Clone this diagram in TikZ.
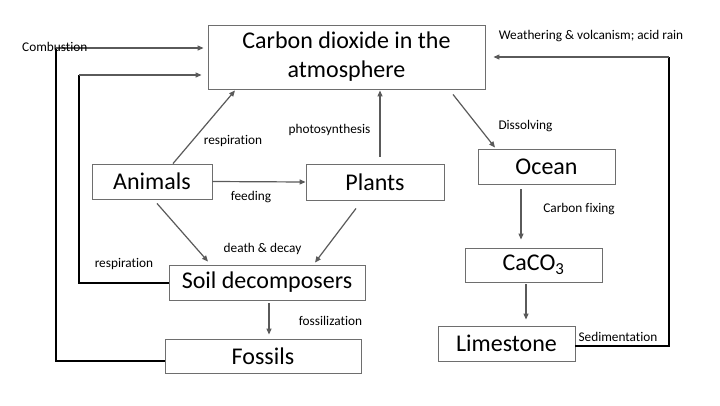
\documentclass[tikz,border=0pt]{standalone}
\usepackage{fontspec}
\setmainfont{Carlito}[Ligatures={NoCommon}]
\usetikzlibrary{arrows.meta,calc}
\definecolor{boxline}{RGB}{110,110,110}
\definecolor{arrgray}{RGB}{90,90,90}
\tikzset{
  box/.style={draw=boxline, line width=0.9pt, inner sep=0pt, font=\fontsize{24}{29}\selectfont, align=center},
  lbl/.style={font=\fontsize{13.3}{15}\selectfont, inner sep=0pt},
  arr/.style={draw=arrgray, line width=1.2pt, -{Triangle[length=6pt,width=5pt]}},
  blk/.style={draw=black, line width=2pt},
}
\begin{document}
\begin{tikzpicture}[x=1pt,y=-1pt]
\useasboundingbox[fill=white] (0,0) rectangle (720,405);
% boxes
\node[box, minimum width=277pt, minimum height=64pt] (co2) at (346.5,57) {Carbon dioxide in the\\atmosphere};
\node[box, minimum width=120pt, minimum height=35pt] (animals) at (152,181.5) {Animals};
\node[box, minimum width=138pt, minimum height=36pt] (plants) at (375,182) {Plants};
\node[box, minimum width=137pt, minimum height=35pt] (ocean) at (546.5,166.5) {Ocean};
\node[box, minimum width=196pt, minimum height=35pt] (soil) at (267,282.5) {Soil decomposers};
\node[box, minimum width=196pt, minimum height=34pt] (fossils) at (263,356) {Fossils};
\node[box, minimum width=137pt, minimum height=34pt] (caco3) at (533.5,265) {CaCO\textsubscript{3}};
\node[box, minimum width=137pt, minimum height=35pt] (lime) at (506.5,343.5) {Limestone};
% corner coordinates
\coordinate (c1) at (56,48);
\coordinate (c2) at (79,75);
\coordinate (c3) at (669,57);
% black return lines
\draw[blk] ($(fossils.west)+(0,5)$) -| (c1);
\draw[arr] (c1) -- ($(co2.west)+(-4,-9)$);
\draw[blk] (soil.west) -| (c2);
\draw[arr] (c2) -- ($(co2.west)+(-6,18)$);
\draw[blk] ($(lime.east)+(0,2.5)$) -| (c3);
\draw[arr] (c3) -- ($(co2.east)+(8,0)$);
% arrows
\draw[arr] ($(animals.north)+(21,0)$) -- ($(co2.south)+(-111.5,1)$);
\draw[arr] (animals.east) -- (plants.west);
\draw[arr] ($(plants.north)+(5,-7)$) -- ($(co2.south)+(33.5,1)$);
\draw[arr] ($(co2.south)+(106.5,5)$) -- ($(ocean.north)+(-51.5,-1)$);
\draw[arr] ($(animals.south)+(5,4)$) -- ($(soil.north)+(-59,-3)$);
\draw[arr] ($(plants.south)+(-19,8)$) -- ($(soil.north)+(48,-2)$);
\draw[arr] ($(soil.south)+(2,3)$) -- ($(fossils.north)+(6,-4)$);
\draw[arr] ($(ocean.south)+(-25.5,5)$) -- ($(caco3.north)+(-12.5,-8)$);
\draw[arr] ($(caco3.south)+(-7.5,2)$) -- ($(lime.north)+(19.5,-6)$);
% labels
\node[lbl, anchor=west] (lcomb) at (22,47) {Combustion};
\node[lbl] (lresp1) at (233,141) {respiration};
\node[lbl] (lphoto) at (329.5,130) {photosynthesis};
\node[lbl] (lfeed) at (251,197) {feeding};
\node[lbl] (ldiss) at (525.5,126) {Dissolving};
\node[lbl] (lweath) at (591,36) {Weathering \& volcanism; acid rain};
\node[lbl] (ldeath) at (262.5,249) {death \& decay};
\node[lbl] (lresp2) at (124,264) {respiration};
\node[lbl] (lfoss) at (330.5,321) {fossilization};
\node[lbl] (lfix) at (579,209) {Carbon fixing};
\node[lbl] (lsed) at (618,337) {Sedimentation};
\end{tikzpicture}
\end{document}
